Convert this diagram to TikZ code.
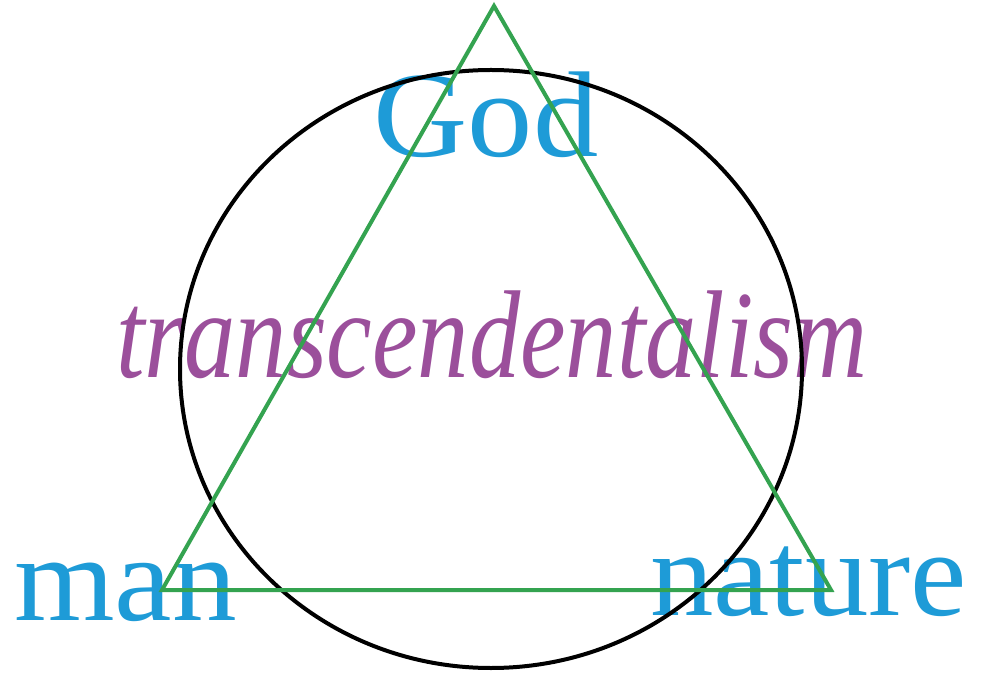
\documentclass[tikz,border=0pt]{standalone}
\usepackage{fontspec}
\setmainfont{Liberation Serif}
\definecolor{wordblue}{RGB}{30,155,215}
\definecolor{wordpurple}{RGB}{155,79,155}
\definecolor{trigreen}{RGB}{52,163,80}
\tikzset{
  bluetext/.style={text=wordblue, inner sep=0pt, font=\fontsize{122}{122}\selectfont},
  purpletext/.style={text=wordpurple, inner sep=0pt, font=\fontsize{125}{125}\selectfont\itshape},
  ring/.style={draw=black, line width=4pt},
  tri/.style={draw=trigreen, line width=4pt, line join=miter},
}
\begin{document}
\begin{tikzpicture}[x=1pt,y=1pt]
\useasboundingbox (0,0) rectangle (987,675);
\fill[white] (0,0) rectangle (987,675);
% texts
\node[bluetext, anchor=base] (god) at (486,518) {\scalebox{1.07}[1]{God}};
\node[purpletext, anchor=base] (trans) at (492,297) {\scalebox{0.82}[1]{transcendentalism}};
\node[bluetext, anchor=base west] (man) at (14,55) {\scalebox{1.06}[1]{man}};
\node[bluetext, anchor=base west] (nature) at (650,60) {\scalebox{1.04}[1]{nature}};
% circle
\coordinate (c) at (491,306);
\draw[ring] (c) ellipse [x radius=311, y radius=299];
% triangle
\coordinate (apex) at (494,669);
\coordinate (bl) at (162,85);
\coordinate (br) at (831,85);
\draw[tri] (apex) -- (bl) -- (br) -- cycle;
\end{tikzpicture}
\end{document}
